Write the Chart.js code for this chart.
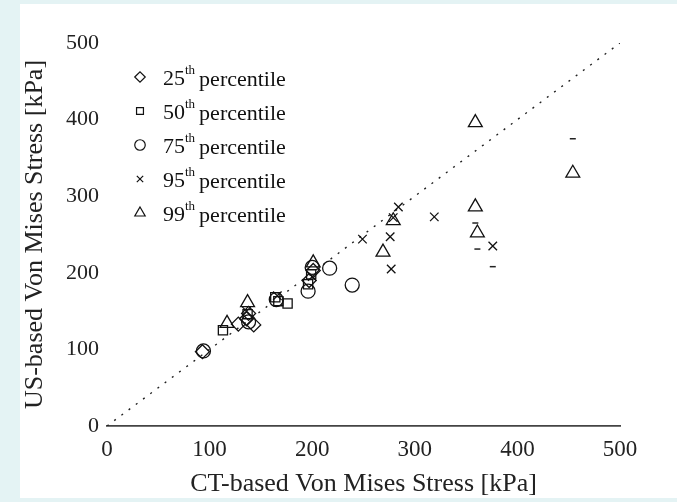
<!DOCTYPE html>
<html>
<head>
<meta charset="utf-8">
<script src="https://cdn.jsdelivr.net/npm/chart.js@4.4.1/dist/chart.umd.min.js"></script>
<style>
  html, body { margin: 0; padding: 0; background: #e4f3f4; }
  #wrap { width: 677px; height: 502px; }
</style>
</head>
<body>
<div id="wrap"><canvas id="stressChart" width="677" height="502"></canvas></div>
<script>
// CT vs US von Mises stress, [CT, US] in kPa

const percentiles = ['25', '50', '75', '95', '99'];

const p25 = [[93, 97], [128, 133], [136, 140], [143, 132], [138, 147], [197, 190], [201, 203]];
const p50 = [[113, 125], [137, 146], [164, 168], [167, 163], [176, 160], [196, 185], [199, 198]];
const p75 = [[94, 98], [138, 136], [165, 165], [196, 176], [200, 207], [217, 206], [239, 184]];
const p95 = [[136, 150], [166, 170], [200, 195], [249, 244], [276, 247], [277, 205], [279, 272], [284, 286], [319, 273], [376, 235]];
const p99 = [[117, 134], [137, 161], [201, 213], [269, 227], [279, 268], [359, 396], [359, 286], [361, 252], [454, 330]];
// small stray marks that appear without a legend entry
const strayMarks = [[454, 375], [359, 265], [361, 231], [376, 208]];

const xTicks = [0, 100, 200, 300, 400, 500];
const yTicks = [0, 100, 200, 300, 400, 500];

const toXY = arr => arr.map(p => ({ x: p[0], y: p[1] }));
const pointStyles = ['rectRot', 'rect', 'circle', 'crossRot', 'triangle'];
const pointSizes = [7, 6.5, 7, 6, 8];
const seriesData = [p25, p50, p75, p95, p99];

const serif = '"Liberation Serif", "DejaVu Serif", serif';

/* ---------------- BACKGROUND ---------------- */
const backgroundPlugin = {
    id: 'panelBackground',
    beforeDraw(chart) {
        const ctx = chart.ctx;
        ctx.save();
        ctx.fillStyle = '#e4f3f4';
        ctx.fillRect(0, 0, chart.width, chart.height);
        ctx.fillStyle = '#ffffff';
        ctx.fillRect(20, 4, chart.width - 20, chart.height - 8);
        ctx.restore();
    }
};

/* ---------------- LEGEND (with superscript "th") ---------------- */
const legendPlugin = {
    id: 'percentileLegend',
    afterDatasetsDraw(chart) {
        const ctx = chart.ctx;
        ctx.save();
        percentiles.forEach((p, i) => {
            const y = 77 + i * 34;
            ctx.lineWidth = 1.2;
            ctx.strokeStyle = '#111';
            ctx.fillStyle = 'rgba(0,0,0,0)';
            Chart.helpers.drawPoint(ctx, { pointStyle: pointStyles[i], radius: pointSizes[i] * 0.75, borderWidth: 1.2, rotation: 0 }, 140, y);

            ctx.fillStyle = '#111';
            ctx.textBaseline = 'middle';
            ctx.textAlign = 'left';
            ctx.font = '22px ' + serif;
            let x = 163;
            ctx.fillText(p, x, y + 2);
            x += ctx.measureText(p).width;
            ctx.font = '13px ' + serif;
            ctx.fillText('th', x, y - 6);
            x += ctx.measureText('th').width + 4;
            ctx.font = '22px ' + serif;
            ctx.fillText('percentile', x, y + 3);
        });
        ctx.restore();
    }
};

/* ---------------- CHART SETUP ---------------- */
const datasets = seriesData.map((d, i) => ({
    label: percentiles[i] + 'th percentile',
    data: toXY(d),
    pointStyle: pointStyles[i],
    pointRadius: pointSizes[i],
    pointBorderWidth: 1.3,
    borderColor: '#111',
    backgroundColor: 'rgba(0,0,0,0)'
}));

datasets.push({
    label: 'stray',
    data: toXY(strayMarks),
    pointStyle: 'line',
    pointRadius: 3,
    pointBorderWidth: 1.5,
    borderColor: '#222',
    backgroundColor: 'rgba(0,0,0,0)'
});

datasets.push({
    type: 'line',
    label: 'identity',
    data: [{ x: 0, y: 0 }, { x: 500, y: 500 }],
    borderColor: '#222',
    borderWidth: 1.4,
    borderDash: [2, 7],
    pointRadius: 0,
    fill: false
});

new Chart(document.getElementById('stressChart'), {
    type: 'scatter',
    data: { datasets },
    plugins: [backgroundPlugin, legendPlugin],
    options: {
        responsive: false,
        animation: false,
        layout: { padding: { left: 20, top: 43, right: 57, bottom: 2 } },
        plugins: {
            legend: { display: false },
            tooltip: { enabled: false }
        },
        scales: {
            x: {
                type: 'linear',
                min: 0,
                max: 500,
                afterBuildTicks: s => { s.ticks = xTicks.map(v => ({ value: v })); },
                afterFit: s => { s.height = 74; },
                border: { display: true, color: '#444', width: 1.8 },
                grid: { display: false },
                ticks: { color: '#222', font: { family: serif, size: 23 }, padding: 2 },
                title: {
                    display: true,
                    text: 'CT-based Von Mises Stress [kPa]',
                    color: '#222',
                    font: { family: serif, size: 26 },
                    padding: { top: 0, bottom: 0 }
                }
            },
            y: {
                type: 'linear',
                min: 0,
                max: 500,
                afterBuildTicks: s => { s.ticks = yTicks.map(v => ({ value: v })); },
                afterFit: s => { s.width = 87; },
                border: { display: false },
                grid: { display: false },
                ticks: { color: '#222', font: { family: serif, size: 22 }, padding: 0 },
                title: {
                    display: true,
                    text: 'US-based Von Mises Stress [kPa]',
                    color: '#222',
                    font: { family: serif, size: 26 },
                    padding: { top: 0, bottom: 0 }
                }
            }
        }
    }
});
</script>
</body>
</html>
